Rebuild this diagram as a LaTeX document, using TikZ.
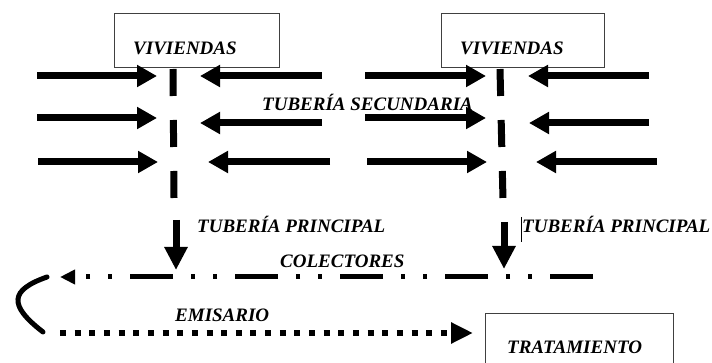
\documentclass[tikz,border=0pt]{standalone}
\usepackage{fontspec}
\setmainfont{Liberation Serif}
\usetikzlibrary{arrows.meta}
\begin{document}
\begin{tikzpicture}[x=1pt,y=-1pt,
  lbl/.style={font=\fontsize{19}{22}\selectfont\bfseries\itshape, text=black,
              inner sep=0pt, anchor=base west},
  housebox/.style={draw=black!75, line width=1pt, inner sep=0pt},
  feed/.style={line width=7pt, -{Triangle[length=20pt,width=21pt]}},
  trunk/.style={line width=7pt, dash pattern=on 27pt off 24pt},
  mainpipe/.style={line width=7pt, -{Triangle[length=23pt,width=22pt]}},
  collector/.style={line width=5pt,
     dash pattern=on 43pt off 18pt on 4pt off 18pt on 4pt off 18pt,
     -{Triangle[length=15pt,width=14pt]}},
  outfall/.style={line width=6pt, dash pattern=on 6pt off 8.65pt,
     -{Triangle[length=22pt,width=20pt]}},
  bendline/.style={line width=5pt, line cap=round}
]
\clip (0,0) rectangle (712,363);
\fill[white] (0,0) rectangle (712,363);

% ---- housing blocks ----
\node[housebox, minimum width=165pt, minimum height=54pt] (viv1) at (196.5,41) {};
\node[housebox, minimum width=163pt, minimum height=54pt] (viv2) at (522.5,41) {};
\node[lbl] (tviv1) at (133,55) {VIVIENDAS};
\node[lbl] (tviv2) at (460,55) {VIVIENDAS};

% ---- secondary pipes feeding the left trunk ----
\coordinate (l1a) at (37,76);  \coordinate (l1b) at (157,76);
\coordinate (l2a) at (37,118); \coordinate (l2b) at (157,118);
\coordinate (l3a) at (38,162); \coordinate (l3b) at (158,162);
\coordinate (r1a) at (322,76); \coordinate (r1b) at (200,76);
\coordinate (r2a) at (322,123);\coordinate (r2b) at (200,123);
\coordinate (r3a) at (330,162);\coordinate (r3b) at (208,162);
\foreach \p in {l1,l2,l3,r1,r2,r3} \draw[feed] (\p a) -- (\p b);

% ---- secondary pipes feeding the right trunk ----
\coordinate (m1a) at (365,76);  \coordinate (m1b) at (486,76);
\coordinate (m2a) at (365,118); \coordinate (m2b) at (486,118);
\coordinate (m3a) at (367,162); \coordinate (m3b) at (487,162);
\coordinate (n1a) at (649,76);  \coordinate (n1b) at (528,76);
\coordinate (n2a) at (649,123); \coordinate (n2b) at (529,123);
\coordinate (n3a) at (657,162); \coordinate (n3b) at (536,162);
\foreach \p in {m1,m2,m3,n1,n2,n3} \draw[feed] (\p a) -- (\p b);

% ---- trunks (dashed) and main pipes ----
\coordinate (t1a) at (173,69); \coordinate (t1b) at (174,198);
\coordinate (t2a) at (500,69); \coordinate (t2b) at (503,200);
\draw[trunk] (t1a) -- (t1b);
\draw[trunk] (t2a) -- (t2b);
\coordinate (p1a) at (176,220); \coordinate (p1b) at (176,270);
\coordinate (p2a) at (504,222); \coordinate (p2b) at (504,269);
\draw[mainpipe] (p1a) -- (p1b);
\draw[mainpipe] (p2a) -- (p2b);

\node[lbl] (tsec) at (262,111) {TUBERÍA SECUNDARIA};
\node[lbl] (tpr1) at (197,233) {TUBERÍA PRINCIPAL};
\node[lbl] (tpr2) at (522,233) {TUBERÍA PRINCIPAL};
\coordinate (cur1) at (521,217); \coordinate (cur2) at (521,242);
\draw[line width=0.8pt] (cur1) -- (cur2);

% ---- collector ----
\coordinate (c1) at (593,277); \coordinate (c0) at (60,277);
\draw[collector] (c1) -- (c0);
\node[lbl] (tcol) at (280,268) {COLECTORES};

% ---- bend to the outfall ----
\coordinate (b0) at (47,277); \coordinate (b1) at (43,332);
\draw[bendline] (b0) .. controls (10,290) and (8,305) .. (b1);

% ---- outfall and treatment ----
\node[housebox, anchor=north west, minimum width=188pt, minimum height=70pt]
  (trat) at (485,313) {};
\node[lbl] (ttrat) at (507,353) {TRATAMIENTO};
\coordinate (e0) at (60,333); \coordinate (e1) at (473,333);
\draw[outfall] (e0) -- (e1);
\node[lbl] (temi) at (175,322) {EMISARIO};
\end{tikzpicture}
\end{document}
